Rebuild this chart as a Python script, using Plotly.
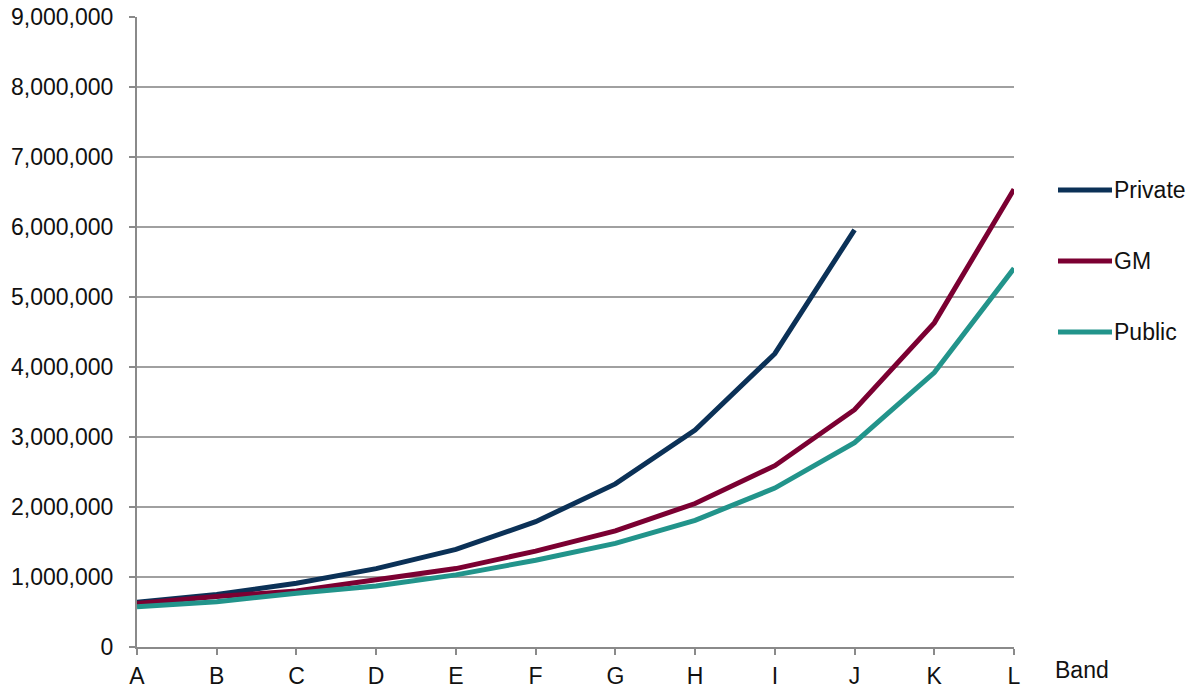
import plotly.graph_objects as go

# Salary bands and cumulative values per sector
bands = ["A", "B", "C", "D", "E", "F", "G", "H", "I", "J", "K", "L"]
private = [640000, 750000, 910000, 1120000, 1395000, 1790000, 2330000, 3100000, 4190000, 5960000]
gm = [620000, 720000, 800000, 965000, 1120000, 1370000, 1660000, 2050000, 2590000, 3390000, 4630000, 6540000]
public = [576000, 647000, 767000, 870000, 1030000, 1240000, 1480000, 1810000, 2270000, 2920000, 3920000, 5410000]

series_names = ["Private", "GM", "Public"]
series_values = [private, gm, public]
series_colors = ["#0b3157", "#7b0032", "#22948b"]

FONT = "Liberation Sans"
FONT_SIZE = 23
TEXT_COLOR = "#111111"
AXIS_COLOR = "#8a8a8a"
GRID_COLOR = "#a0a0a0"

W, H = 1198, 688
ML, MR, MT, MB = 137, 184, 17, 41
plot_w = W - ML - MR
plot_h = H - MT - MB

fig = go.Figure()
for name, vals, col in zip(series_names, series_values, series_colors):
    fig.add_trace(go.Scatter(
        x=bands[:len(vals)], y=vals, name=name, mode="lines",
        line=dict(color=col, width=5), showlegend=False,
    ))

# Legend drawn at the right of the plot area
legend_rows = [190, 261, 332]
for name, col, py in zip(series_names, series_colors, legend_rows):
    yp = (MT + plot_h - py) / plot_h
    x0 = (1058 - ML) / plot_w
    x1 = (1112 - ML) / plot_w
    fig.add_shape(type="line", xref="paper", yref="paper", x0=x0, x1=x1, y0=yp, y1=yp,
                  line=dict(color=col, width=5))
    fig.add_annotation(xref="paper", yref="paper", x=(1112 - ML) / plot_w, y=yp,
                       text=name, showarrow=False, xanchor="left", yanchor="middle",
                       font=dict(family=FONT, size=FONT_SIZE, color=TEXT_COLOR))

# Axis title for the bands
fig.add_annotation(xref="paper", yref="paper", x=(1053 - ML) / plot_w,
                   y=-(670 - (MT + plot_h)) / plot_h,
                   text="Band", showarrow=False, xanchor="left", yanchor="middle",
                   font=dict(family=FONT, size=FONT_SIZE, color=TEXT_COLOR))

fig.update_xaxes(
    type="category", categoryorder="array", categoryarray=bands,
    range=[0, len(bands) - 1], showgrid=False, zeroline=False,
    showline=True, linecolor=AXIS_COLOR, linewidth=2,
    ticks="outside", ticklen=6, tickwidth=2, tickcolor=AXIS_COLOR,
    tickfont=dict(family=FONT, size=FONT_SIZE, color=TEXT_COLOR),
    ticklabelstandoff=1, automargin=False,
)
fig.update_yaxes(
    range=[0, 9000000], dtick=1000000, tick0=0, tickformat=",",
    showgrid=True, gridcolor=GRID_COLOR, gridwidth=2, zeroline=False,
    showline=True, linecolor=AXIS_COLOR, linewidth=2,
    ticks="outside", ticklen=6, tickwidth=2, tickcolor=AXIS_COLOR,
    tickfont=dict(family=FONT, size=FONT_SIZE, color=TEXT_COLOR),
    ticklabelstandoff=11, automargin=False,
)
fig.update_layout(
    width=W, height=H, autosize=False,
    margin=dict(l=ML, r=MR, t=MT, b=MB, pad=0, autoexpand=False),
    plot_bgcolor="white", paper_bgcolor="white",
    showlegend=False,
)

fig.write_html("out.html")
